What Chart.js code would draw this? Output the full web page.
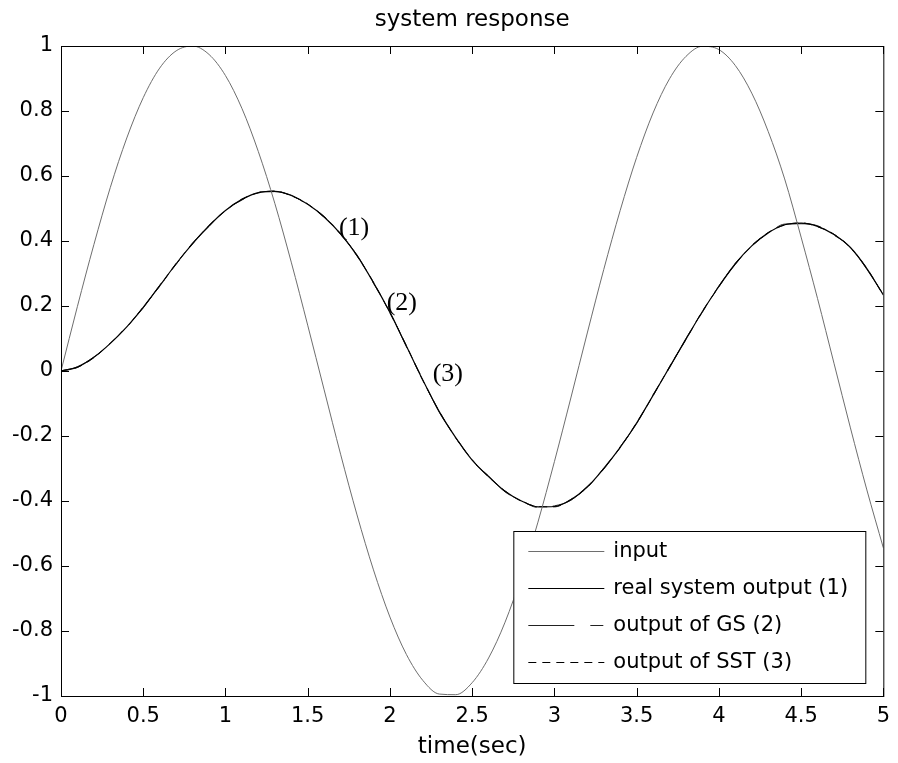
<!DOCTYPE html>
<html>
<head>
<meta charset="utf-8">
<script src="https://cdn.jsdelivr.net/npm/chart.js@4.4.0/dist/chart.umd.min.js"></script>
<style>
  html, body { margin: 0; padding: 0; background: #fff; }
  #wrap { width: 898px; height: 763px; }
</style>
</head>
<body>
<div id="wrap"><canvas id="responseChart" width="898" height="763"></canvas></div>
<script>
// time axis (sec)
const timeSec = [0, 0.1, 0.2, 0.3, 0.4, 0.5, 0.6, 0.7, 0.8, 0.9,
    1, 1.1, 1.2, 1.3, 1.4, 1.5, 1.6, 1.7, 1.8, 1.9,
    2, 2.1, 2.2, 2.3, 2.4, 2.5, 2.6, 2.7, 2.8, 2.9,
    3, 3.1, 3.2, 3.3, 3.4, 3.5, 3.6, 3.7, 3.8, 3.9,
    4, 4.1, 4.2, 4.3, 4.4, 4.5, 4.6, 4.7, 4.8, 4.9, 5];

const inputSignal = [0, 0.199, 0.389, 0.565, 0.717, 0.841, 0.932, 0.985, 1.0, 0.974,
    0.909, 0.808, 0.675, 0.516, 0.335, 0.141, -0.058, -0.256, -0.443, -0.612,
    -0.757, -0.872, -0.952, -0.994, -0.996, -0.959, -0.883, -0.773, -0.631, -0.465,
    -0.279, -0.083, 0.117, 0.312, 0.494, 0.657, 0.794, 0.899, 0.968, 0.999,
    0.989, 0.940, 0.855, 0.737, 0.591, 0.412, 0.223, 0.024, -0.175, -0.366, -0.544];

const realOutput = [0, 0.012, 0.042, 0.085, 0.136, 0.196, 0.262, 0.330, 0.392, 0.447,
    0.494, 0.528, 0.549, 0.553, 0.540, 0.513, 0.474, 0.422, 0.355, 0.272,
    0.180, 0.077, -0.028, -0.125, -0.205, -0.274, -0.325, -0.370, -0.400, -0.418,
    -0.417, -0.396, -0.357, -0.300, -0.235, -0.160, -0.075, 0.012, 0.098, 0.183,
    0.260, 0.330, 0.385, 0.425, 0.450, 0.455, 0.445, 0.420, 0.380, 0.315, 0.234];

const gsOutput = [0, 0.013, 0.043, 0.084, 0.138, 0.194, 0.264, 0.328, 0.394, 0.445,
    0.496, 0.526, 0.551, 0.552, 0.541, 0.511, 0.476, 0.420, 0.357, 0.270,
    0.182, 0.075, -0.026, -0.127, -0.203, -0.276, -0.323, -0.372, -0.398, -0.420,
    -0.415, -0.398, -0.355, -0.302, -0.233, -0.162, -0.073, 0.010, 0.100, 0.181,
    0.262, 0.328, 0.387, 0.423, 0.452, 0.453, 0.447, 0.418, 0.382, 0.313, 0.236];

const sstOutput = [0, 0.011, 0.041, 0.086, 0.135, 0.197, 0.261, 0.331, 0.391, 0.448,
    0.493, 0.529, 0.548, 0.554, 0.539, 0.514, 0.473, 0.423, 0.354, 0.273,
    0.179, 0.078, -0.029, -0.124, -0.206, -0.273, -0.326, -0.369, -0.401, -0.417,
    -0.418, -0.395, -0.358, -0.299, -0.236, -0.159, -0.076, 0.013, 0.097, 0.184,
    0.259, 0.331, 0.384, 0.426, 0.449, 0.456, 0.444, 0.421, 0.379, 0.316, 0.233];

const xTickValues = [0, 0.5, 1, 1.5, 2, 2.5, 3, 3.5, 4, 4.5, 5];
const yTickValues = [-1, -0.8, -0.6, -0.4, -0.2, 0, 0.2, 0.4, 0.6, 0.8, 1];

const seriesLabels = ['input', 'real system output (1)', 'output of GS (2)', 'output of SST (3)'];

// curve markers placed in data coordinates
const curveTags = [
    { text: '(1)', t: 1.69, v: 0.44 },
    { text: '(2)', t: 1.98, v: 0.21 },
    { text: '(3)', t: 2.26, v: -0.01 }
];

const tickFont = { family: 'DejaVu Sans', size: 21 };
const labelFont = { family: 'DejaVu Sans', size: 23 };

function toPoints(values) {
    return timeSec.map((t, i) => ({ x: t, y: values[i] }));
}

// box, inward ticks, curve tags, title and legend drawn MATLAB style
const matlabAxes = {
    id: 'matlabAxes',
    afterDatasetsDraw(chart) {
        const { ctx, chartArea: a, scales: { x, y } } = chart;
        ctx.save();
        ctx.strokeStyle = '#000';
        ctx.lineWidth = 1;
        ctx.setLineDash([]);
        ctx.strokeRect(a.left + 0.5, a.top + 0.5, a.right - a.left, a.bottom - a.top);

        const tickLen = 8;
        ctx.beginPath();
        xTickValues.forEach(v => {
            const px = Math.round(x.getPixelForValue(v)) + 0.5;
            ctx.moveTo(px, a.bottom); ctx.lineTo(px, a.bottom - tickLen);
            ctx.moveTo(px, a.top); ctx.lineTo(px, a.top + tickLen);
        });
        yTickValues.forEach(v => {
            const py = Math.round(y.getPixelForValue(v)) + 0.5;
            ctx.moveTo(a.left, py); ctx.lineTo(a.left + tickLen, py);
            ctx.moveTo(a.right, py); ctx.lineTo(a.right - tickLen, py);
        });
        ctx.stroke();

        // (1) (2) (3)
        ctx.fillStyle = '#000';
        ctx.font = '26px "Liberation Serif"';
        ctx.textAlign = 'left';
        ctx.textBaseline = 'middle';
        curveTags.forEach(tag => {
            ctx.fillText(tag.text, x.getPixelForValue(tag.t), y.getPixelForValue(tag.v));
        });

        // title
        ctx.font = labelFont.size + 'px "' + labelFont.family + '"';
        ctx.textAlign = 'center';
        ctx.textBaseline = 'alphabetic';
        ctx.fillText('system response', (a.left + a.right) / 2, 26);

        // legend
        const boxW = 352, boxH = 152;
        const bx = a.right - 18 - boxW;
        const by = a.bottom - 13 - boxH;
        ctx.fillStyle = '#fff';
        ctx.fillRect(bx, by, boxW, boxH);
        ctx.strokeStyle = '#000';
        ctx.strokeRect(bx + 0.5, by + 0.5, boxW, boxH);
        ctx.font = tickFont.size + 'px "' + tickFont.family + '"';
        ctx.textAlign = 'left';
        ctx.textBaseline = 'middle';
        chart.data.datasets.forEach((ds, i) => {
            const ry = by + 20 + i * 37;
            ctx.save();
            ctx.strokeStyle = ds.borderColor;
            ctx.lineWidth = ds.borderWidth;
            ctx.setLineDash(ds.borderDash || []);
            ctx.beginPath();
            ctx.moveTo(bx + 15, ry + 0.5);
            ctx.lineTo(bx + 91, ry + 0.5);
            ctx.stroke();
            ctx.restore();
            ctx.fillStyle = '#000';
            ctx.fillText(ds.label, bx + 100, ry + 1);
        });
        ctx.restore();
    }
};

const ctx = document.getElementById('responseChart').getContext('2d');
new Chart(ctx, {
    type: 'line',
    data: {
        datasets: [{
            label: seriesLabels[0],
            data: toPoints(inputSignal),
            borderColor: '#6e6e6e',
            borderWidth: 1
        }, {
            label: seriesLabels[1],
            data: toPoints(realOutput),
            borderColor: '#000',
            borderWidth: 1.2
        }, {
            label: seriesLabels[2],
            data: toPoints(gsOutput),
            borderColor: '#222',
            borderWidth: 1,
            borderDash: [46, 16, 13, 16]
        }, {
            label: seriesLabels[3],
            data: toPoints(sstOutput),
            borderColor: '#000',
            borderWidth: 1,
            borderDash: [8, 6]
        }]
    },
    options: {
        responsive: false,
        animation: false,
        devicePixelRatio: 1,
        layout: { padding: { top: 46, right: 12, bottom: 0, left: 0 } },
        elements: {
            point: { radius: 0 },
            line: { cubicInterpolationMode: 'monotone', fill: false }
        },
        plugins: {
            legend: { display: false },
            title: { display: false },
            tooltip: { enabled: false }
        },
        scales: {
            x: {
                type: 'linear',
                min: 0,
                max: 5,
                grid: { display: false, drawTicks: false },
                border: { display: false },
                afterBuildTicks: scale => { scale.ticks = xTickValues.map(v => ({ value: v })); },
                afterFit: scale => { scale.height = 67; },
                ticks: {
                    color: '#000',
                    font: tickFont,
                    padding: 8,
                    maxRotation: 0,
                    callback: v => String(v)
                },
                title: {
                    display: true,
                    text: 'time(sec)',
                    color: '#000',
                    font: labelFont,
                    padding: { top: 0, bottom: 2 }
                }
            },
            y: {
                type: 'linear',
                min: -1,
                max: 1,
                grid: { display: false, drawTicks: false },
                border: { display: false },
                afterBuildTicks: scale => { scale.ticks = yTickValues.map(v => ({ value: v })); },
                afterFit: scale => { scale.width = 61; },
                ticks: {
                    color: '#000',
                    font: tickFont,
                    padding: 8,
                    callback: v => String(v)
                }
            }
        }
    },
    plugins: [matlabAxes]
});
</script>
</body>
</html>
